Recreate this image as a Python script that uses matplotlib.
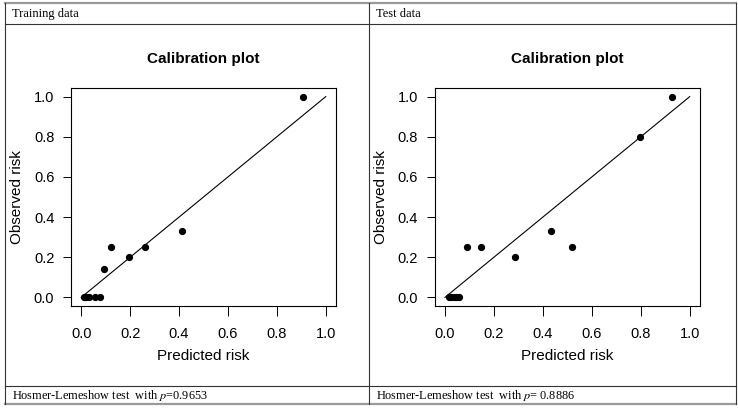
import matplotlib
matplotlib.use("Agg")
import matplotlib.pyplot as plt
from matplotlib.lines import Line2D

plt.rcParams["mathtext.fontset"] = "stix"

# ---- data ----
train_pred = [0.010, 0.020, 0.030, 0.056, 0.077, 0.092, 0.122, 0.194, 0.262, 0.411, 0.905]
train_obs = [0.0, 0.0, 0.0, 0.0, 0.0, 0.143, 0.25, 0.20, 0.25, 0.333, 1.0]
test_pred = [0.015, 0.025, 0.035, 0.045, 0.057, 0.091, 0.148, 0.285, 0.434, 0.517, 0.798, 0.929]
test_obs = [0.0, 0.0, 0.0, 0.0, 0.0, 0.25, 0.25, 0.20, 0.333, 0.25, 0.80, 1.0]
diag = [0.0, 1.0]
ticks = [0.0, 0.2, 0.4, 0.6, 0.8, 1.0]
tick_labels = ["0.0", "0.2", "0.4", "0.6", "0.8", "1.0"]
headers = ["Training data", "Test data"]
pvals = ["0.9653", " 0.8886"]

W, H = 738, 411
fig = plt.figure(figsize=(W / 100, H / 100), dpi=100)
fig.patch.set_facecolor("white")

def fx(px):
    return px / W

def fy(py):
    return 1 - py / H

sans = ["Liberation Sans", "DejaVu Sans"]
serif = ["Liberation Serif", "DejaVu Serif"]

# table lines
L, R, T, B = 5, 736, 3, 404
hdr, ftr, mid = 24, 386, 369
for (x0, y0, x1, y1, c, lw) in [
    (L, T, R, T, "#9a9a9a", 1.6),
    (L, B, R, B, "#9a9a9a", 1.6),
    (L, T, L, B, "#333333", 0.8),
    (R, T, R, B, "#333333", 0.8),
    (mid, T, mid, B, "#333333", 0.8),
    (L, hdr, R, hdr, "#333333", 0.8),
    (L, ftr, R, ftr, "#333333", 0.8),
]:
    fig.add_artist(Line2D([fx(x0), fx(x1)], [fy(y0), fy(y1)], color=c, lw=lw))

panels = [
    (71, 336, train_pred, train_obs, 12),
    (434.7, 700, test_pred, test_obs, mid + 7),
]
top, bot = 88, 306
for i, (xl, xr, px, py, tx) in enumerate(panels):
    ax = fig.add_axes([fx(xl), fy(bot), fx(xr) - fx(xl), fy(top) - fy(bot)])
    ax.plot(diag, diag, color="black", lw=0.8)
    ax.plot(px, py, "o", color="black", ms=4.2, mec="black")
    ax.set_xlim(-0.042, 1.042)
    ax.set_ylim(-0.043, 1.043)
    ax.set_xticks(ticks)
    ax.set_xticklabels(tick_labels, family=sans, fontsize=10.5)
    ax.set_yticks(ticks)
    ax.set_yticklabels(tick_labels, family=sans, fontsize=10.5)
    ax.tick_params(axis="x", direction="out", length=7, width=0.7, pad=8)
    ax.tick_params(axis="y", direction="out", length=6, width=0.7, pad=6)
    for s in ax.spines.values():
        s.set_linewidth(0.8)
    ax.set_xlabel("Predicted risk", family=sans, fontsize=11)
    ax.set_ylabel("Observed risk", family=sans, fontsize=11)
    ax.xaxis.set_label_coords(0.5, -(349 - bot) / (bot - top))
    ax.yaxis.set_label_coords(-47 / (xr - xl), 0.5)
    ax.set_title("Calibration plot", family=sans, fontsize=11, fontweight="bold",
                 y=1 + (top - 59) / (bot - top), va="center", pad=0)
    fig.text(fx(tx), fy(14), headers[i], family=serif, fontsize=9, va="center", ha="left")
    fig.text(fx(tx), fy(395), "Hosmer-Lemeshow test  with $\\it{p}$=" + pvals[i],
             family=serif, fontsize=8.8, va="center", ha="left")

fig.savefig("out.png", dpi=100)
